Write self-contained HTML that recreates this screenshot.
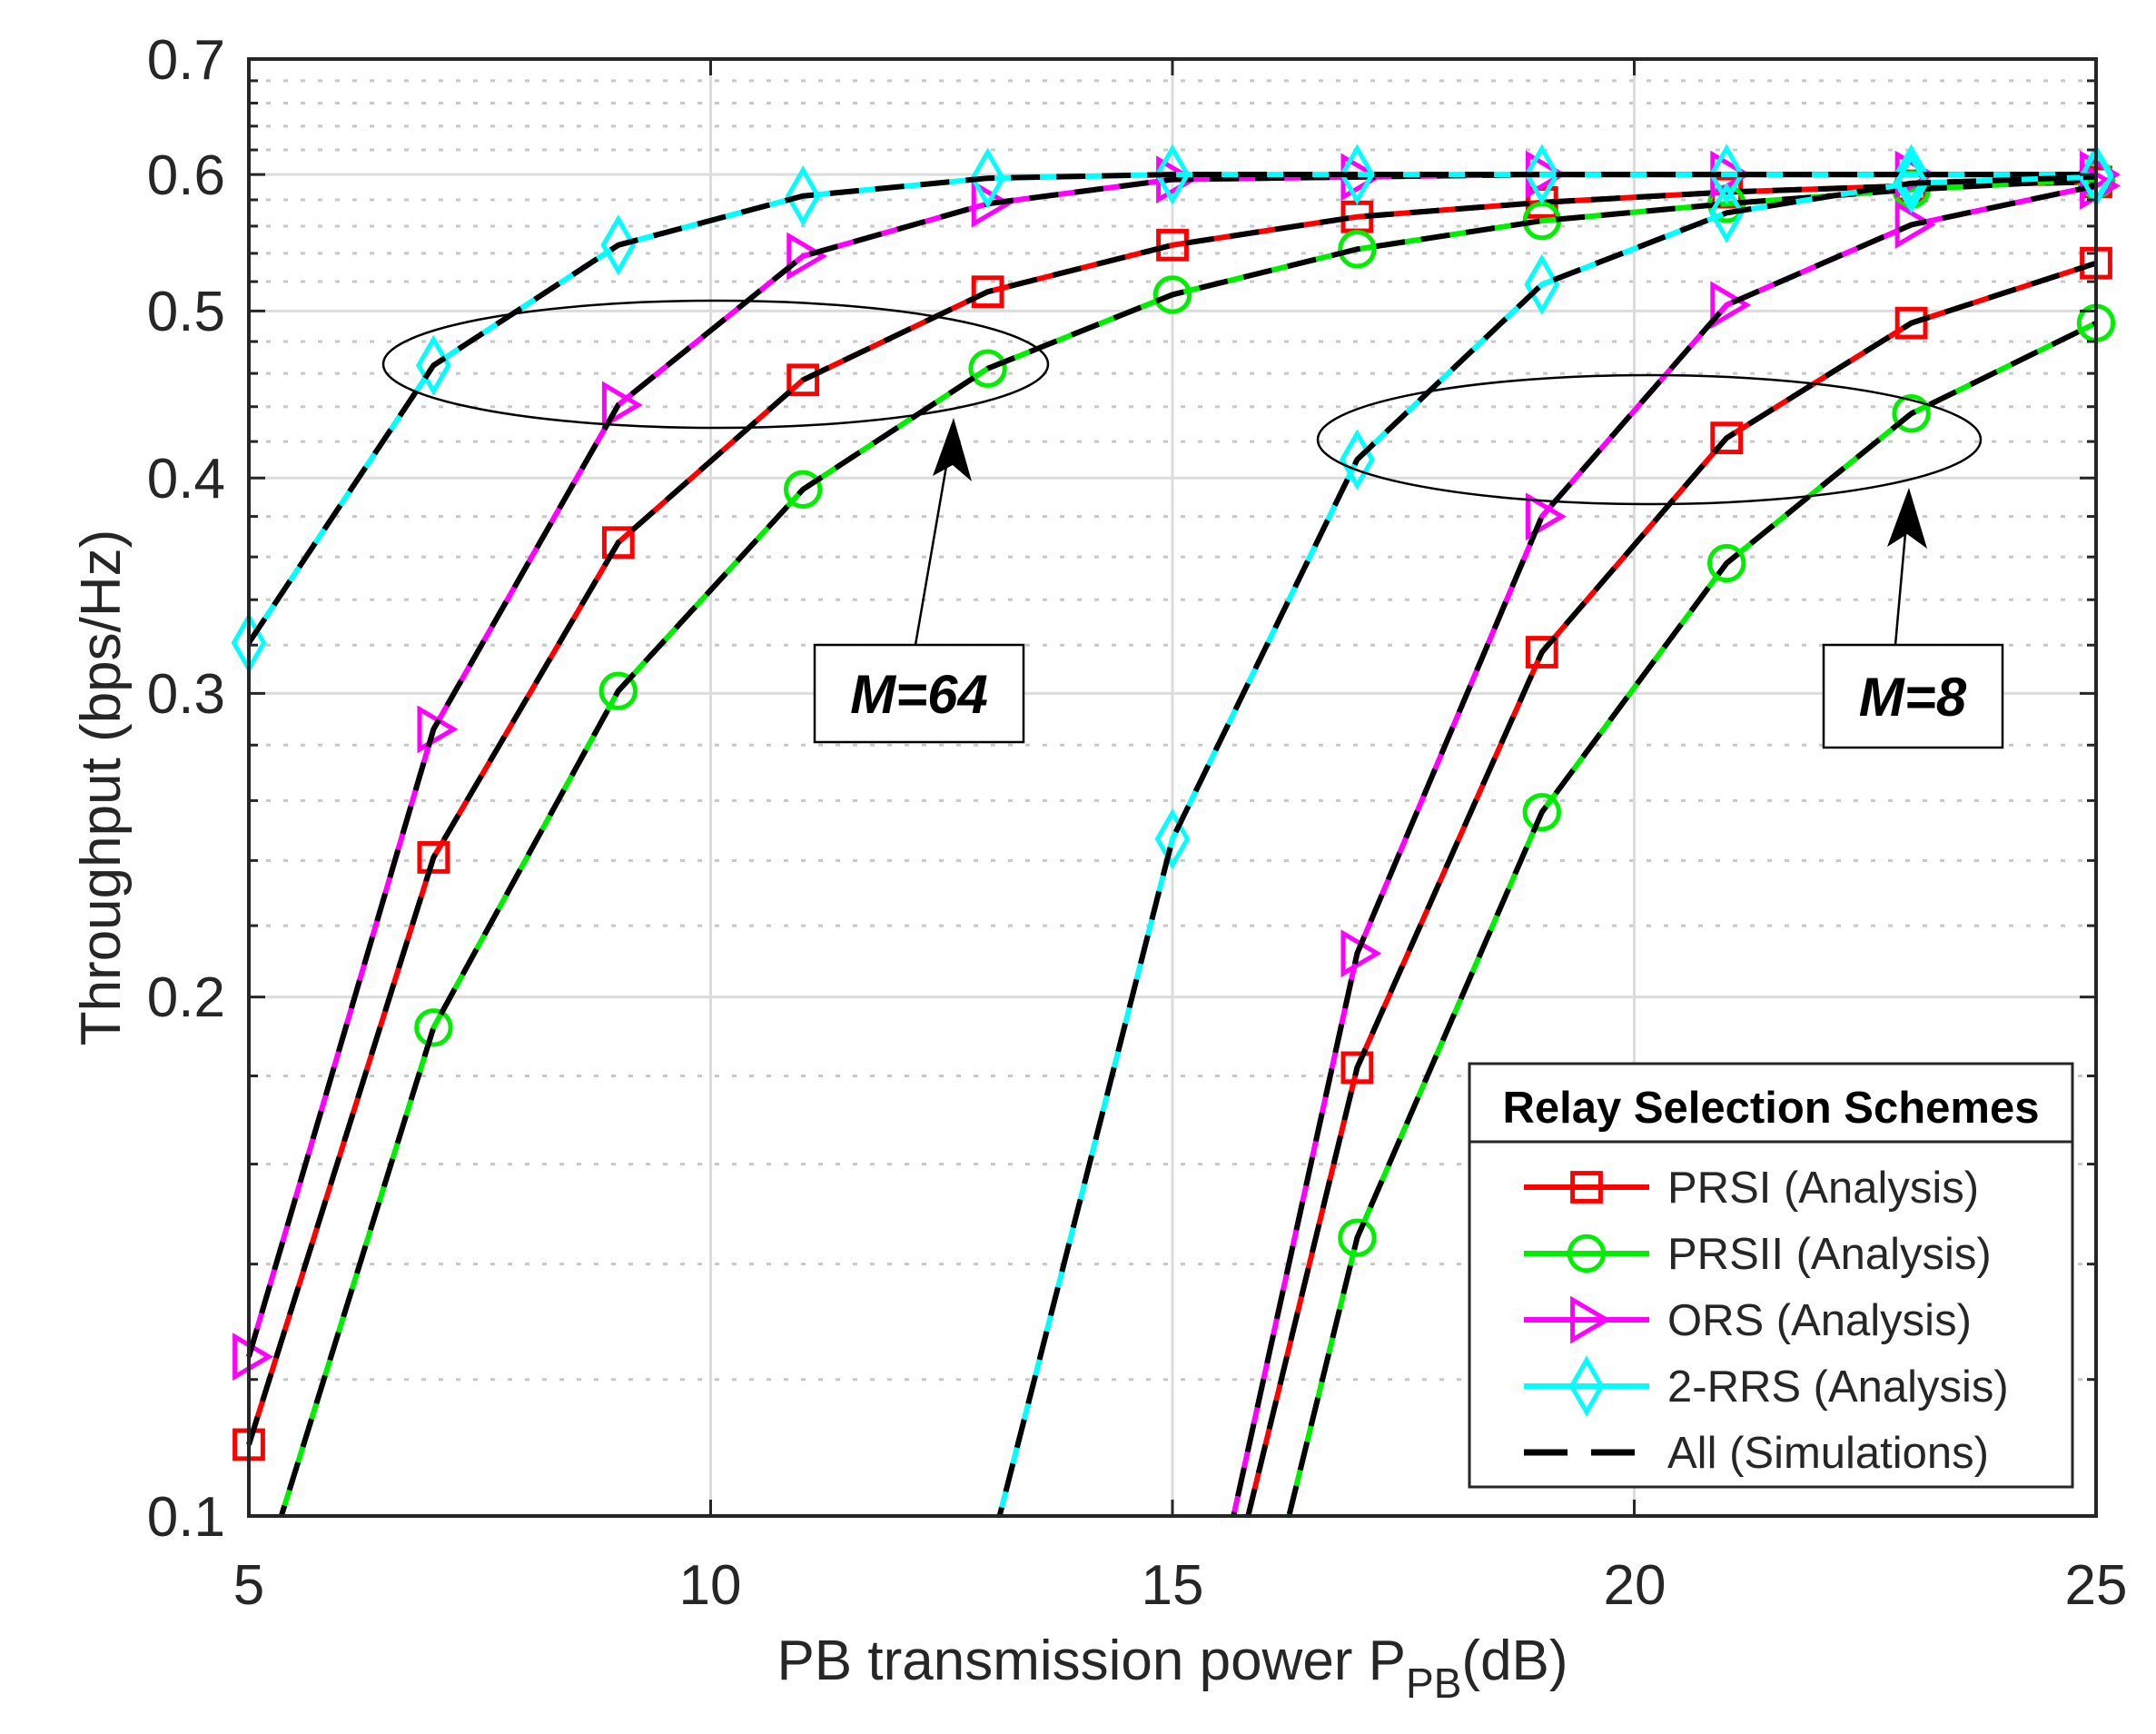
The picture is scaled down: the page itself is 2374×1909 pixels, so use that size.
<!DOCTYPE html>
<html><head><meta charset="utf-8"><style>
html,body{margin:0;padding:0;background:#fff;overflow:hidden;width:2374px;height:1909px}
svg{display:block}
svg text{font-family:"Liberation Sans",sans-serif;fill:#262626}
</style></head><body>
<svg id="s" width="2374" height="1909" xmlns="http://www.w3.org/2000/svg">
<rect width="2374" height="1909" fill="#fff"/>
<g id="grid"></g>
<g id="series"></g>
<g id="axes"></g>
<g font-size="62" text-anchor="end">
<text x="248" y="87">0.7</text>
<text x="248" y="214">0.6</text>
<text x="248" y="364">0.5</text>
<text x="248" y="548">0.4</text>
<text x="248" y="785">0.3</text>
<text x="248" y="1119">0.2</text>
<text x="248" y="1691">0.1</text>
</g>
<g font-size="62" text-anchor="middle">
<text x="274" y="1766">5</text>
<text x="782" y="1766">10</text>
<text x="1291" y="1766">15</text>
<text x="1800" y="1766">20</text>
<text x="2308" y="1766">25</text>
</g>
<text x="1291" y="1849" font-size="62" text-anchor="middle">PB transmission power P<tspan font-size="46" dy="20">PB</tspan><tspan dy="-20">(dB)</tspan></text>
<text transform="translate(132,867) rotate(-90)" font-size="62" text-anchor="middle">Throughput (bps/Hz)</text>
<ellipse cx="788" cy="401" rx="366" ry="70" fill="none" stroke="#000" stroke-width="2.5"/>
<ellipse cx="1816" cy="484" rx="365" ry="71" fill="none" stroke="#000" stroke-width="2.5"/>
<line x1="1008" y1="710" x2="1046" y2="490" stroke="#000" stroke-width="2.5"/>
<polygon points="1050,460 1070,530 1049,512 1027,524" fill="#000"/>
<line x1="2087" y1="710" x2="2100" y2="565" stroke="#000" stroke-width="2.5"/>
<polygon points="2102,537 2122,604 2100,588 2078,602" fill="#000"/>
<rect x="897" y="710" width="230" height="107" fill="#fff" stroke="#000" stroke-width="2.5"/>
<text x="1012" y="785" font-size="60" font-weight="bold" font-style="italic" text-anchor="middle" style="fill:#000">M=64</text>
<rect x="2008" y="710" width="197" height="113" fill="#fff" stroke="#000" stroke-width="2.5"/>
<text x="2106" y="788" font-size="60" font-weight="bold" font-style="italic" text-anchor="middle" style="fill:#000">M=8</text>
<rect x="1618" y="1171" width="664" height="466" fill="#fff" stroke="#262626" stroke-width="3"/>
<line x1="1618" y1="1257" x2="2282" y2="1257" stroke="#262626" stroke-width="3"/>
<text x="1950" y="1236" font-size="49" font-weight="bold" text-anchor="middle" style="fill:#000">Relay Selection Schemes</text>
<g id="leg"></g>
<g font-size="49">
<text x="1836" y="1324">PRSI (Analysis)</text>
<text x="1836" y="1397">PRSII (Analysis)</text>
<text x="1836" y="1470">ORS (Analysis)</text>
<text x="1836" y="1543">2-RRS (Analysis)</text>
<text x="1836" y="1616">All (Simulations)</text>
</g>
</svg>
<script>
const NS="http://www.w3.org/2000/svg";
const L=274,R=2308,T=65,B=1669,D=1898;
const X=p=>L+(p-5)*(R-L)/20;
const Y=v=>B-D*Math.log10(v/0.1);
function el(par,tag,attrs){const e=document.createElementNS(NS,tag);for(const k in attrs)e.setAttribute(k,attrs[k]);document.getElementById(par).appendChild(e);return e;}
for(let v=0.12;v<0.695;v+=0.02){const r=Math.round(v*100);if(r%10===0)continue;const y=Y(r/100);
 el("grid","line",{x1:L,x2:R,y1:y,y2:y,stroke:"#c8c8c8","stroke-width":3,"stroke-dasharray":"5 14"});
 el("axes","line",{x1:L,x2:L+10,y1:y,y2:y,stroke:"#262626","stroke-width":3});
 el("axes","line",{x1:R,x2:R-10,y1:y,y2:y,stroke:"#262626","stroke-width":3});}
for(let k=2;k<=6;k++){const y=Y(k/10);el("grid","line",{x1:L,x2:R,y1:y,y2:y,stroke:"#dcdcdc","stroke-width":3});
 el("axes","line",{x1:L,x2:L+18,y1:y,y2:y,stroke:"#262626","stroke-width":3});
 el("axes","line",{x1:R,x2:R-18,y1:y,y2:y,stroke:"#262626","stroke-width":3});}
for(let p=10;p<=20;p+=5){const x=X(p);el("grid","line",{x1:x,x2:x,y1:T,y2:B,stroke:"#dcdcdc","stroke-width":3});
 el("axes","line",{x1:x,x2:x,y1:B,y2:B-18,stroke:"#262626","stroke-width":3});
 el("axes","line",{x1:x,x2:x,y1:T,y2:T+18,stroke:"#262626","stroke-width":3});}
el("axes","rect",{x:L,y:T,width:R-L,height:B-T,fill:"none",stroke:"#262626","stroke-width":4});
const defs=el("series","defs",{});const cp=document.createElementNS(NS,"clipPath");cp.setAttribute("id","cp");
const cr=document.createElementNS(NS,"rect");cr.setAttribute("x",L-40);cr.setAttribute("y",T-40);cr.setAttribute("width",R-L+80);cr.setAttribute("height",B-T+40);cp.appendChild(cr);defs.appendChild(cp);
const ps=[5,7,9,11,13,15,17,19,21,23,25];
const data=[
 ["#ff0000","sq",[0.110,0.241,0.367,0.456,0.513,0.546,0.567,0.578,0.586,0.591,0.594]],
 ["#00ee00","ci",[0.087,0.192,0.301,0.394,0.463,0.511,0.543,0.564,0.577,0.588,0.596]],
 ["#ff00ff","tr",[0.1237,0.286,0.441,0.538,0.577,0.596,0.598,0.6,0.6,0.6,0.6]],
 ["#00ffff","di",[0.321,0.465,0.546,0.583,0.597,0.6,0.6,0.6,0.6,0.6,0.6]],
 ["#ff0000","sq",[0.02,0.03,0.04,0.05,0.06,0.066,0.182,0.317,0.422,0.492,0.533]],
 ["#00ee00","ci",[0.02,0.03,0.04,0.045,0.05,0.053,0.145,0.256,0.357,0.436,0.492]],
 ["#ff00ff","tr",[0.02,0.03,0.04,0.05,0.06,0.069,0.212,0.380,0.504,0.561,0.591]],
 ["#00ffff","di",[0.02,0.03,0.05,0.07,0.094,0.247,0.410,0.518,0.570,0.593,0.598]]];
function marker(g,t,x,y,c){const s=22;
 if(t==="sq")el(g,"rect",{x:x-s*0.7,y:y-s*0.7,width:s*1.4,height:s*1.4,fill:"none",stroke:c,"stroke-width":5});
 else if(t==="ci")el(g,"circle",{cx:x,cy:y,r:s*0.85,fill:"none",stroke:c,"stroke-width":5});
 else if(t==="tr")el(g,"polygon",{points:`${x+s},${y} ${x-s*0.7},${y-s} ${x-s*0.7},${y+s}`,fill:"none",stroke:c,"stroke-width":5});
 else el(g,"polygon",{points:`${x},${y-s*1.3} ${x+s*0.75},${y} ${x},${y+s*1.3} ${x-s*0.75},${y}`,fill:"none",stroke:c,"stroke-width":5});}
el("series","g",{"clip-path":"url(#cp)",id:"sg"});
data.forEach(([c,t,vs])=>{const pts=ps.map((p,i)=>X(p)+","+Y(vs[i])).join(" ");
 el("sg","polyline",{points:pts,fill:"none",stroke:c,"stroke-width":6});
 ps.forEach((p,i)=>{if(vs[i]>=0.098)marker("sg",t,X(p),Y(vs[i]),c);});
 el("sg","polyline",{points:pts,fill:"none",stroke:"#000","stroke-width":6,"stroke-dasharray":"32 18"});});
const ly=[1307,1380,1453,1526];const lc=[["#ff0000","sq"],["#00ee00","ci"],["#ff00ff","tr"],["#00ffff","di"]];
lc.forEach(([c,t],i)=>{el("leg","line",{x1:1678,x2:1816,y1:ly[i],y2:ly[i],stroke:c,"stroke-width":6});marker("leg",t,1747,ly[i],c);});
el("leg","line",{x1:1678,x2:1816,y1:1599,y2:1599,stroke:"#000","stroke-width":7,"stroke-dasharray":"48 26"});
</script>
</body></html>
